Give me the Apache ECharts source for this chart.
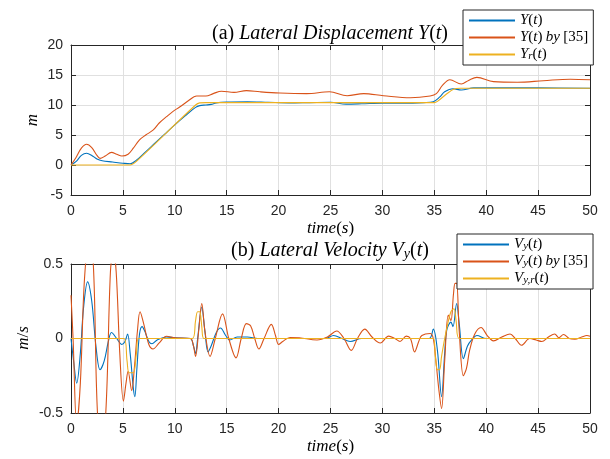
<!DOCTYPE html>
<html>
<head>
<meta charset="utf-8">
<script src="https://cdn.jsdelivr.net/npm/echarts@6/dist/echarts.min.js"></script>
<style>
  html, body { margin: 0; padding: 0; background: #fff; }
  #chart { width: 610px; height: 459px; }
</style>
</head>
<body>
<div id="chart"></div>
<script>
// ---- (a) lateral displacement, metres ----
const dispT_Y = [0,0.5,1,1.5,2,2.5,3,4,5,5.7,6.3,7,8,9,10,11,12,12.4,13,13.5,14,15,17,19,21,23,25,26.5,28,30,32,34,34.9,35.5,36,36.8,37.6,38.8,40,45,50];
const dispV_Y = [0,0.6,1.6,1.95,1.6,1.0,0.7,0.5,0.3,0.2,0.8,1.9,3.5,5.1,6.7,8.2,9.6,9.9,10.0,10.1,10.35,10.5,10.55,10.45,10.35,10.4,10.45,10.15,10.2,10.3,10.3,10.4,10.55,11.3,12.2,12.7,12.5,12.85,12.85,12.85,12.8];

const dispT_Y35 = [0,0.5,1,1.5,2,2.5,2.8,3.3,3.9,4.4,4.9,5.5,6,6.6,7.2,7.9,8.5,9.2,9.8,10.5,11.3,12.1,13,13.7,14.5,15.7,16.9,18.2,20.1,22.7,24.9,26.6,28.2,30.1,32.7,34.6,35.2,35.8,36.5,37.6,38.3,39.1,40.7,43,45.5,48.1,50];
const dispV_Y35 = [0,1.3,2.8,3.45,2.9,1.6,1.1,1.5,2.1,1.8,1.5,1.8,2.8,4.2,5.0,5.8,7.0,8.05,8.9,9.7,10.7,11.5,11.5,11.9,12.3,12.1,12.4,12.2,12.0,11.9,12.2,11.55,11.9,11.55,11.2,11.5,11.9,13.3,14.2,13.5,14.1,14.6,13.9,13.8,14.05,14.3,14.2];

const dispT_Yr = [0,5.5,5.8,6.3,12,12.4,13,35,35.3,36.8,37.5,50];
const dispV_Yr = [0,0,0.05,0.6,10.0,10.35,10.4,10.4,10.6,12.6,12.8,12.8];

// ---- (b) lateral velocity, m/s ----
const velT_Vy = [0,0.25,0.55,0.9,1.2,1.6,2.0,2.4,2.8,3.2,3.6,3.9,4.4,4.9,5.2,5.45,5.7,6.0,6.15,6.35,6.6,6.85,7.1,7.5,7.8,8.3,9.2,10,11.5,11.8,12.0,12.2,12.6,12.9,13.2,13.5,14.0,14.4,14.9,15.3,16,17,18,24.5,25.3,26.1,26.9,28,34.5,34.9,35.3,35.7,36.0,36.2,36.6,36.8,37.15,37.4,37.8,38.2,38.6,39.1,40,50];
const velV_Vy = [0,-0.15,-0.3,-0.1,0.2,0.38,0.25,-0.05,-0.21,-0.15,-0.02,0.04,0.0,-0.04,-0.02,0.03,-0.1,-0.33,-0.39,-0.2,0.03,0.08,0.05,-0.02,-0.035,-0.01,0.01,0.005,0,-0.05,-0.1,0.0,0.21,0.05,-0.09,-0.05,0.04,0.07,0.02,-0.01,0.01,0.01,0,0,0.02,0,-0.02,0,0,0.063,-0.08,-0.39,-0.1,0.056,0.11,0.08,0.235,0.1,-0.135,-0.05,-0.01,0.02,0,0];

const velT_Vy35 = [0,0.2,0.55,0.9,1.3,1.75,2.15,2.55,2.95,3.35,3.8,4.07,4.35,4.7,5.05,5.3,5.5,5.85,6.1,6.4,6.65,7.0,7.5,7.9,8.5,9.2,10,11.5,11.8,12.0,12.3,12.6,12.9,13.4,13.9,14.6,15.2,15.9,16.4,16.9,17.3,17.7,18.1,18.6,19.3,19.7,20.0,20.4,21.1,22,23.7,24.7,25.6,26.3,27.0,27.6,28.3,29.0,29.8,30.6,31.2,31.7,32.3,32.7,33.1,33.5,33.8,34.6,34.9,35.15,35.45,35.7,36.0,36.35,36.6,36.85,37.0,37.15,37.4,37.8,38.1,38.4,38.9,39.5,40.1,40.7,41.5,42.3,42.8,43.4,44.2,44.8,45.35,46.0,46.6,47.0,47.45,48.0,48.55,49.2,49.7,50];
const velV_Vy35 = [0.29,0.0,-0.58,-0.3,0.4,0.65,0.5,-0.5,-0.65,-0.5,0.45,0.58,0.45,-0.1,-0.42,-0.3,-0.22,-0.35,-0.2,0.05,0.18,0.1,-0.04,-0.07,-0.03,0.015,0.005,0,-0.05,-0.12,0.05,0.235,0.05,-0.12,0.0,0.165,0.0,-0.13,0.0,0.1,0.085,0.0,-0.07,0.0,0.095,0.02,-0.04,-0.02,0.007,0.005,-0.01,0.01,0.05,0.0,-0.08,0.0,0.063,0.01,-0.03,0.016,0,-0.02,0.016,0.0,-0.09,-0.02,0.02,0.034,0.0,-0.146,-0.35,-0.47,-0.15,0.157,0.12,0.3,0.37,0.37,0.05,-0.25,-0.2,-0.08,0.03,0.074,0.02,-0.016,0.01,0.03,0.0,-0.045,0.0,-0.01,-0.02,0.01,0.03,0.005,0.027,0.0,-0.005,0.01,0.02,0.015];

const velT_Vyr = [0,5.1,5.4,5.6,6.0,6.3,6.5,11.7,12.0,12.2,12.4,12.6,12.8,34.9,35.1,35.3,35.5,35.7,36.0,36.3,36.6,36.9,37.1,37.4,50];
const velV_Vyr = [0,0,-0.15,-0.23,-0.23,-0.1,0,0,0.12,0.18,0.18,0.08,0,0,-0.12,-0.21,-0.21,-0.12,0,0.1,0.18,0.2,0.12,0,0];

// axis ticks
const timeTicks = { min: 0, max: 50, interval: 5 };
const dispTicks = { min: -5, max: 20, interval: 5 };
const velTicks = { min: -0.5, max: 0.5, interval: 0.5 };

const C_BLUE = '#0072BD', C_RED = '#D95319', C_YEL = '#EDB120';
const AX = '#262626';
const SERIF = 'Liberation Serif';
const SANS = 'Liberation Sans';

const pairs = (ts, vs) => ts.map((t, i) => [t, vs[i]]);

const mathRich = (size) => ({
  i: { fontFamily: SERIF, fontStyle: 'italic', fontWeight: 'normal', fontSize: size, fill: '#000', color: '#000' },
  n: { fontFamily: SERIF, fontWeight: 'normal', fontSize: size, fill: '#000', color: '#000' },
  s: { fontFamily: SERIF, fontStyle: 'italic', fontWeight: 'normal', fontSize: Math.round(size * 0.7), fill: '#000', color: '#000', verticalAlign: 'bottom', lineHeight: 8 }
});

const legendLabels = {
  'Y(t)': '{i|Y}{n|(}{i|t}{n|)}',
  'Y(t) by [35]': '{i|Y}{n|(}{i|t}{n|)} {i|by} {n|[35]}',
  'Yr(t)': '{i|Y}{s|r}{n|(}{i|t}{n|)}',
  'Vy(t)': '{i|V}{s|y}{n|(}{i|t}{n|)}',
  'Vy(t) by [35]': '{i|V}{s|y}{n|(}{i|t}{n|)} {i|by} {n|[35]}',
  'Vyr(t)': '{i|V}{s|y,r}{n|(}{i|t}{n|)}'
};

const frameLine = { show: true, onZero: false, lineStyle: { color: AX, width: 1 } };
const inTick = { show: true, inside: true, length: 5, lineStyle: { color: AX } };
const gridLine = { show: true, lineStyle: { color: '#e0e0e0', width: 1 } };

const mainX = (gi) => ({
  type: 'value', gridIndex: gi, ...timeTicks,
  axisLine: frameLine, axisTick: inTick, splitLine: gridLine,
  axisLabel: { color: AX, fontFamily: SANS, fontSize: 14, margin: 9 },
  name: '{i|time}{n|(}{i|s}{n|)}',
  nameLocation: 'middle', nameGap: 25, nameMoveOverlap: false,
  nameTextStyle: { rich: mathRich(17) }
});
const boxX = (gi) => ({
  type: 'value', gridIndex: gi, position: 'top', ...timeTicks,
  axisLine: frameLine, axisTick: inTick,
  axisLabel: { show: false }, splitLine: { show: false }
});
const mainY = (gi, ticks, fmt) => ({
  type: 'value', gridIndex: gi, ...ticks,
  axisLine: frameLine, axisTick: inTick, splitLine: gridLine,
  axisLabel: { color: AX, fontFamily: SANS, fontSize: 14, margin: 8, formatter: fmt }
});
const boxY = (gi, ticks) => ({
  type: 'value', gridIndex: gi, position: 'right', ...ticks,
  axisLine: frameLine, axisTick: inTick,
  axisLabel: { show: false }, splitLine: { show: false }
});

// rotated y-axis units, set beside each plot
const unitText = (text, x, y) => ({
  type: 'text', x, y, rotation: Math.PI / 2, z: 10,
  style: { text, rich: mathRich(17), align: 'center', verticalAlign: 'middle' }
});

const line = (name, color, xi, yi, data) => ({
  name, type: 'line', xAxisIndex: xi, yAxisIndex: yi, data,
  showSymbol: false, symbol: 'none', smooth: 0.35, clip: true,
  lineStyle: { color, width: 1.1 }, itemStyle: { color },
  animation: false
});

const legendBox = (names, left, top) => ({
  data: names, orient: 'vertical', left, top,
  itemWidth: 46, itemHeight: 14, itemGap: 2,
  padding: [3, 5, 3, 5],
  backgroundColor: '#fff', borderColor: AX, borderWidth: 1, borderRadius: 0,
  z: 20,
  itemStyle: { opacity: 0 },
  formatter: (n) => legendLabels[n],
  textStyle: { rich: mathRich(15) },
  selectedMode: false
});

const chart = echarts.init(document.getElementById('chart'), null, { renderer: 'canvas' });
chart.setOption({
  animation: false,
  backgroundColor: '#fff',
  title: [
    { text: '{n|(a) }{i|Lateral Displacement Y}{n|(}{i|t}{n|)}', left: 330, top: 24, textAlign: 'center',
      textStyle: { rich: mathRich(20) }, padding: 0 },
    { text: '{n|(b) }{i|Lateral Velocity V}{s|y}{n|(}{i|t}{n|)}', left: 330, top: 241, textAlign: 'center',
      textStyle: { rich: mathRich(20) }, padding: 0 }
  ],
  grid: [
    { left: 71, top: 45, width: 519, height: 150 },
    { left: 71, top: 264, width: 519, height: 149 }
  ],
  xAxis: [mainX(0), mainX(1), boxX(0), boxX(1)],
  yAxis: [
    mainY(0, dispTicks),
    mainY(1, velTicks, (v) => (v === 0 ? '0' : String(v))),
    boxY(0, dispTicks), boxY(1, velTicks)
  ],
  graphic: [
    unitText('{i|m}', 33, 120),
    unitText('{i|m}{n|/}{i|s}', 24, 338)
  ],
  legend: [
    legendBox(['Y(t)', 'Y(t) by [35]', 'Yr(t)'], 463, 10),
    legendBox(['Vy(t)', 'Vy(t) by [35]', 'Vyr(t)'], 457, 234)
  ],
  series: [
    line('Y(t)', C_BLUE, 0, 0, pairs(dispT_Y, dispV_Y)),
    line('Y(t) by [35]', C_RED, 0, 0, pairs(dispT_Y35, dispV_Y35)),
    line('Yr(t)', C_YEL, 0, 0, pairs(dispT_Yr, dispV_Yr)),
    line('Vy(t)', C_BLUE, 1, 1, pairs(velT_Vy, velV_Vy)),
    line('Vy(t) by [35]', C_RED, 1, 1, pairs(velT_Vy35, velV_Vy35)),
    line('Vyr(t)', C_YEL, 1, 1, pairs(velT_Vyr, velV_Vyr))
  ]
});
</script>
</body>
</html>
